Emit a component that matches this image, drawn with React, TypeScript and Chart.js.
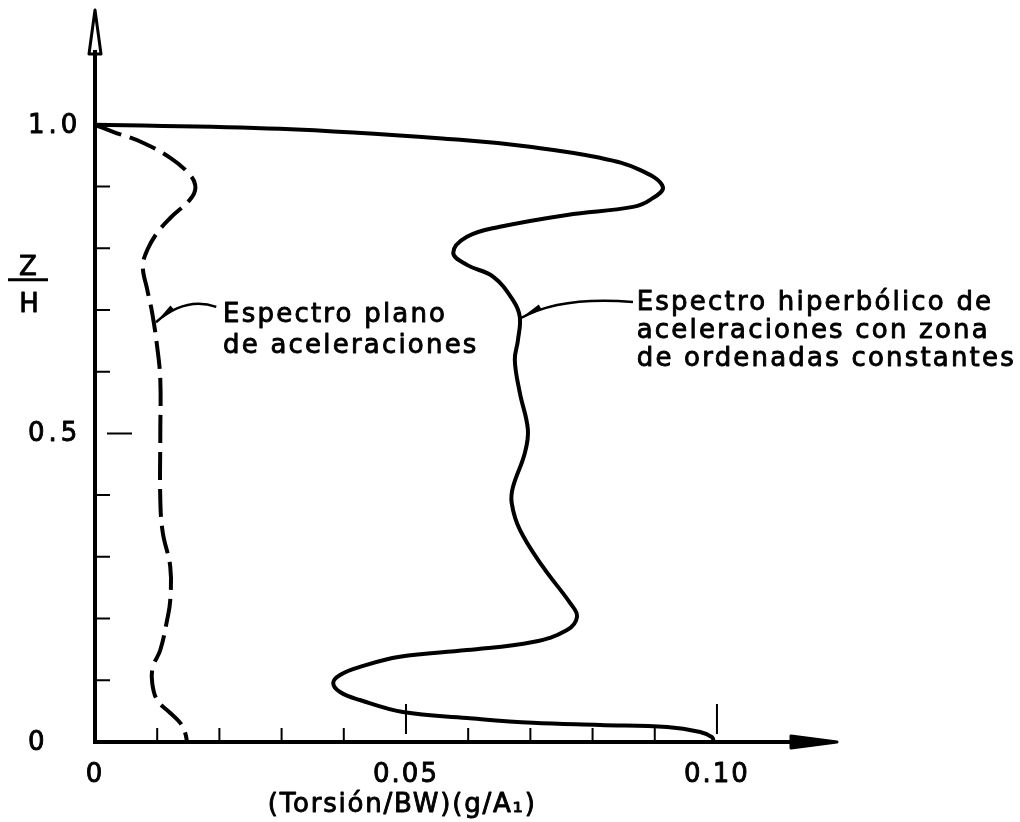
import React, { useEffect, useRef } from "react";
import { Chart, registerables } from "chart.js";

Chart.register(...registerables);

// Z/H levels and torsion values, hyperbolic spectrum (solid)
const hypZ = [1.0, 0.9935, 0.9757, 0.9643, 0.9465, 0.927, 0.8995, 0.878, 0.867, 0.854, 0.8347, 0.8185, 0.7925, 0.773, 0.754, 0.716, 0.689, 0.651, 0.619, 0.566, 0.506, 0.468, 0.413, 0.387, 0.344, 0.284, 0.225, 0.203, 0.1815, 0.162, 0.149, 0.138, 0.1216, 0.1086, 0.0956, 0.081, 0.068, 0.0486, 0.039, 0.031, 0.0276, 0.0243, 0.0162, 0.008, 0.0];
const hypT = [0.0, 0.0297, 0.0587, 0.0699, 0.0812, 0.0876, 0.0913, 0.0892, 0.0865, 0.0759, 0.0651, 0.0598, 0.0576, 0.0598, 0.064, 0.0672, 0.0683, 0.068, 0.0675, 0.0683, 0.0696, 0.0691, 0.0672, 0.067, 0.0683, 0.072, 0.0764, 0.0775, 0.0759, 0.0704, 0.0598, 0.049, 0.0426, 0.0394, 0.0383, 0.0394, 0.0426, 0.0495, 0.0598, 0.0704, 0.0812, 0.092, 0.0973, 0.0992, 0.0995];

// flat spectrum (dashed)
const flatZ = [1.0, 0.9887, 0.971, 0.9465, 0.924, 0.903, 0.883, 0.849, 0.825, 0.797, 0.77, 0.733, 0.695, 0.64, 0.587, 0.5, 0.392, 0.339, 0.284, 0.23, 0.198, 0.149, 0.1216, 0.0956, 0.068, 0.047, 0.031, 0.0146, 0.0];
const flatT = [0.0, 0.0029, 0.0077, 0.0121, 0.0148, 0.0161, 0.0156, 0.0121, 0.01, 0.0084, 0.0077, 0.0084, 0.0092, 0.01, 0.0105, 0.0105, 0.0105, 0.0109, 0.0121, 0.0121, 0.0116, 0.0105, 0.0093, 0.0092, 0.01, 0.0121, 0.0137, 0.0145, 0.0148];

const yMinorTicks = [0.1, 0.2, 0.3, 0.4, 0.6, 0.7, 0.8, 0.9];
const yMajorTicks = [0.5];
const yLabelValues = [0, 0.5, 1.0];
const yLabelTexts = ["0", "0.5", "1.0"];
const xMinorTicks = [0.01, 0.02, 0.03, 0.04, 0.06, 0.07, 0.08, 0.09];
const xMajorTicks = [0.05, 0.1];
const xLabelValues = [0, 0.05, 0.1];
const xLabelTexts = ["0", "0.05", "0.10"];

const xTitle = "(Torsión/BW)(g/A₁)";
const flatLabel = ["Espectro plano", "de aceleraciones"];
const hypLabel = ["Espectro hiperbólico de", "aceleraciones con zona", "de ordenadas constantes"];

const X_MAX = 0.1193;
const Y_MAX = 1.186;
const FONT = "DejaVu Sans";

const overlay = {
  id: "overlay",
  afterDatasetsDraw(chart: any) {
    const ctx = chart.ctx as CanvasRenderingContext2D;
    const xs = chart.scales.x;
    const ys = chart.scales.y;
    const px = (v: number) => xs.getPixelForValue(v);
    const py = (v: number) => ys.getPixelForValue(v);
    const x0 = px(0);
    const y0 = py(0);
    const xEnd = px(X_MAX);
    const yTop = py(Y_MAX);
    ctx.save();
    ctx.strokeStyle = "#000";
    ctx.fillStyle = "#000";
    ctx.lineCap = "butt";
    ctx.lineJoin = "round";

    const text = (t: string, x: number, y: number, sw = 0.9) => {
      ctx.fillText(t, x, y);
      ctx.lineWidth = sw;
      ctx.strokeText(t, x, y);
    };

    // axes
    ctx.lineWidth = 4;
    ctx.beginPath();
    ctx.moveTo(x0, y0 + 2);
    ctx.lineTo(x0, yTop + 40);
    ctx.moveTo(x0 - 2, y0);
    ctx.lineTo(xEnd - 40, y0);
    ctx.stroke();

    // y arrow (narrow, outlined)
    ctx.lineWidth = 3;
    ctx.beginPath();
    ctx.moveTo(x0, yTop);
    ctx.lineTo(x0 - 6, yTop + 44);
    ctx.lineTo(x0 + 6, yTop + 44);
    ctx.closePath();
    ctx.stroke();
    // x arrow
    ctx.beginPath();
    ctx.moveTo(xEnd, y0);
    ctx.lineTo(xEnd - 46, y0 - 6);
    ctx.lineTo(xEnd - 46, y0 + 6);
    ctx.closePath();
    ctx.fill();
    ctx.stroke();

    // y ticks (inside)
    ctx.lineWidth = 2;
    ctx.beginPath();
    yMinorTicks.forEach((v) => {
      ctx.moveTo(x0 + 2, py(v));
      ctx.lineTo(x0 + 15, py(v));
    });
    yMajorTicks.forEach((v) => {
      ctx.moveTo(x0 + 12, py(v));
      ctx.lineTo(x0 + 37, py(v));
    });
    // x ticks (upward)
    xMinorTicks.forEach((v) => {
      ctx.moveTo(px(v), y0);
      ctx.lineTo(px(v), y0 - 14);
    });
    xMajorTicks.forEach((v) => {
      ctx.moveTo(px(v), y0 - 8);
      ctx.lineTo(px(v), y0 - 38);
    });
    ctx.stroke();

    // tick labels
    (ctx as any).letterSpacing = "4px";
    ctx.font = `26px "${FONT}"`;
    ctx.textBaseline = "middle";
    ctx.textAlign = "left";
    yLabelValues.forEach((v, i) => {
      text(yLabelTexts[i], x0 - 67, py(v) + 1);
    });
    (ctx as any).letterSpacing = "2px";
    ctx.textAlign = "center";
    xLabelValues.forEach((v, i) => {
      text(xLabelTexts[i], px(v), y0 + 33);
    });
    ctx.font = `26px "${FONT}"`;
    (ctx as any).letterSpacing = "1.8px";
    text(xTitle, px(0.0494), y0 + 63);

    // Z/H fraction
    ctx.font = `26px "${FONT}"`;
    (ctx as any).letterSpacing = "0px";
    ctx.textBaseline = "alphabetic";
    text("Z", x0 - 67, py(0.757));
    text("H", x0 - 66, py(0.697));
    ctx.lineWidth = 3;
    ctx.beginPath();
    ctx.moveTo(x0 - 87, py(0.749));
    ctx.lineTo(x0 - 47, py(0.749));
    ctx.stroke();

    // annotation text
    ctx.font = `26px "${FONT}"`;
    (ctx as any).letterSpacing = "2.2px";
    ctx.textAlign = "left";
    flatLabel.forEach((t, i) => {
      text(t, px(0.0206), py(0.68 - i * 0.05));
    });
    hypLabel.forEach((t, i) => {
      text(t, px(0.0871), py(0.7 - i * 0.0455));
    });
    (ctx as any).letterSpacing = "0px";

    // leaders
    const leader = (a: number[], c: number[], b: number[]) => {
      ctx.lineWidth = 2.5;
      ctx.beginPath();
      ctx.moveTo(px(a[0]), py(a[1]));
      ctx.quadraticCurveTo(px(c[0]), py(c[1]), px(b[0]), py(b[1]));
      ctx.stroke();
      const ax = px(a[0]);
      const ay = py(a[1]);
      const dx = px(c[0]) - ax;
      const dy = py(c[1]) - ay;
      const len = Math.hypot(dx, dy);
      const ux = dx / len;
      const uy = dy / len;
      ctx.beginPath();
      ctx.moveTo(ax, ay);
      ctx.lineTo(ax + ux * 22 - uy * 3, ay + uy * 22 + ux * 3);
      ctx.lineTo(ax + ux * 22 + uy * 3, ay + uy * 22 - ux * 3);
      ctx.closePath();
      ctx.fill();
    };
    leader([0.0098, 0.68], [0.0145, 0.722], [0.0195, 0.705]);
    leader([0.0685, 0.687], [0.0748, 0.7226], [0.0865, 0.713]);

    ctx.restore();
  },
};

export default function App() {
  const ref = useRef<HTMLCanvasElement | null>(null);
  useEffect(() => {
    document.body.style.margin = "0";
    const canvas = ref.current;
    if (!canvas) return;
    const chart = new Chart(canvas, {
      type: "line",
      data: {
        datasets: [
          {
            label: "Espectro hiperbólico",
            data: hypZ.map((z, i) => ({ x: hypT[i], y: z })),
            borderColor: "#000",
            borderWidth: 4,
            pointRadius: 0,
            tension: 0.4,
            fill: false,
            clip: false as any,
          },
          {
            label: "Espectro plano",
            data: flatZ.map((z, i) => ({ x: flatT[i], y: z })),
            borderColor: "#000",
            borderWidth: 4,
            borderDash: [28, 9],
            pointRadius: 0,
            tension: 0.4,
            fill: false,
            clip: false as any,
          },
        ],
      },
      options: {
        animation: false,
        responsive: false,
        devicePixelRatio: 1,
        layout: { padding: { left: 95, right: 183, top: 10, bottom: 80 } },
        plugins: { legend: { display: false }, tooltip: { enabled: false } },
        scales: {
          x: { type: "linear", min: 0, max: X_MAX, display: false },
          y: { type: "linear", min: 0, max: Y_MAX, display: false },
        },
      },
      plugins: [overlay],
    });
    return () => chart.destroy();
  }, []);
  return (
    <div style={{ width: 1020, height: 822, background: "#fff" }}>
      <canvas ref={ref} width={1020} height={822} style={{ display: "block" }} />
    </div>
  );
}
